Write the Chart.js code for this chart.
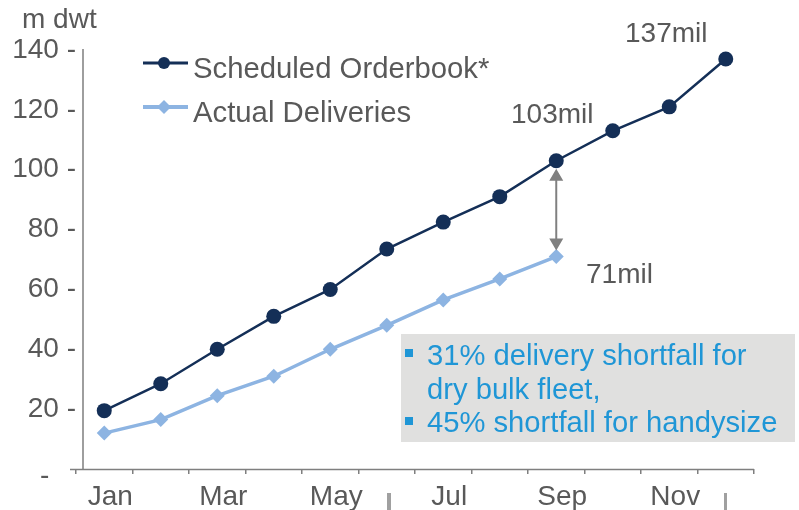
<!DOCTYPE html>
<html>
<head>
<meta charset="utf-8">
<script src="https://cdn.jsdelivr.net/npm/chart.js@4.4.0/dist/chart.umd.min.js"></script>
<style>
  html, body { margin: 0; padding: 0; background: #fff; }
  #wrap { width: 799px; height: 510px; }
</style>
</head>
<body>
<div id="wrap"><canvas id="chart" width="799" height="510"></canvas></div>
<script>
// values
const months = ['Jan', 'Feb', 'Mar', 'Apr', 'May', 'Jun', 'Jul', 'Aug', 'Sep', 'Oct', 'Nov', 'Dec'];
const scheduled = [19.5, 28.5, 40, 51, 60, 73.5, 82.5, 91, 103, 113, 121, 137];
const actual = [12, 16.5, 24.5, 31, 40, 48, 56.5, 63.5, 71, null, null, null];
const yTicks = [0, 20, 40, 60, 80, 100, 120, 140];
const boxLines = ['31% delivery shortfall for', 'dry bulk fleet,', '45% shortfall for handysize'];

const FONT = '"Liberation Sans", Arial, sans-serif';
const GREY_TXT = '#595959';
const NAVY = '#142f57';
const LIGHT = '#8db4e2';

function dot(ctx, x, y, r, color, diamond) {
  ctx.fillStyle = color;
  ctx.beginPath();
  if (diamond) {
    ctx.moveTo(x, y - r); ctx.lineTo(x + r, y); ctx.lineTo(x, y + r); ctx.lineTo(x - r, y);
    ctx.closePath();
  } else {
    ctx.arc(x, y, r, 0, Math.PI * 2);
  }
  ctx.fill();
}

const extras = {
  id: 'extras',
  afterDraw(chart) {
    const ctx = chart.ctx;
    const x = chart.scales.x, y = chart.scales.y;
    const area = chart.chartArea;
    ctx.save();

    // axis lines
    ctx.strokeStyle = '#7f7f7f';
    ctx.lineWidth = 1.5;
    ctx.beginPath();
    ctx.moveTo(83, y.getPixelForValue(140) - 1);
    ctx.lineTo(83, y.getPixelForValue(0));
    ctx.moveTo(70, y.getPixelForValue(0) + 0.5);
    ctx.lineTo(area.right, y.getPixelForValue(0) + 0.5);
    ctx.stroke();

    // stray separators below the axis
    ctx.fillStyle = '#a0a0a0';
    ctx.fillRect(387, 493, 4, 17);
    ctx.fillRect(724, 493, 3, 17);

    // zero label and unit
    ctx.fillStyle = GREY_TXT;
    ctx.font = '28px ' + FONT;
    ctx.textBaseline = 'alphabetic';
    ctx.textAlign = 'left';
    ctx.fillText('-', 40, 484);
    ctx.fillText('m dwt', 22, 28);

    // legend
    const legend = [
      { label: 'Scheduled Orderbook*', color: NAVY, y: 63, diamond: false, w: 3, r: 6 },
      { label: 'Actual Deliveries', color: LIGHT, y: 107, diamond: true, w: 4, r: 7 }
    ];
    legend.forEach(l => {
      ctx.strokeStyle = l.color;
      ctx.lineWidth = l.w;
      ctx.beginPath();
      ctx.moveTo(143, l.y);
      ctx.lineTo(188, l.y);
      ctx.stroke();
      dot(ctx, 164, l.y, l.r, l.color, l.diamond);
      ctx.fillStyle = GREY_TXT;
      ctx.font = '29.3px ' + FONT;
      ctx.fillText(l.label, 193, l.y + 15);
    });

    // value labels
    ctx.fillStyle = GREY_TXT;
    ctx.font = '28px ' + FONT;
    ctx.fillText('137mil', 625, 42);
    ctx.fillText('103mil', 511, 123);
    ctx.fillText('71mil', 586, 283);

    // gap arrow at Sep
    const ax = x.getPixelForValue(8);
    const top = y.getPixelForValue(scheduled[8]) + 8;
    const bot = y.getPixelForValue(actual[8]) - 6;
    ctx.strokeStyle = '#808080';
    ctx.fillStyle = '#808080';
    ctx.lineWidth = 2;
    ctx.beginPath();
    ctx.moveTo(ax, top + 10);
    ctx.lineTo(ax, bot - 10);
    ctx.stroke();
    ctx.beginPath();
    ctx.moveTo(ax, top); ctx.lineTo(ax + 7, top + 12); ctx.lineTo(ax - 7, top + 12); ctx.closePath();
    ctx.moveTo(ax, bot); ctx.lineTo(ax + 7, bot - 12); ctx.lineTo(ax - 7, bot - 12); ctx.closePath();
    ctx.fill();

    // note box
    ctx.fillStyle = '#e0e0df';
    ctx.fillRect(401, 334, 394, 108);
    ctx.fillStyle = '#1f96d6';
    ctx.fillRect(405, 349, 8, 8);
    ctx.fillRect(405, 417, 8, 8);
    ctx.font = '29.2px ' + FONT;
    ctx.fillText(boxLines[0], 427, 365);
    ctx.fillText(boxLines[1], 427, 399);
    ctx.fillText(boxLines[2], 427, 432);

    ctx.restore();
  }
};

new Chart(document.getElementById('chart'), {
  type: 'line',
  data: {
    labels: months,
    datasets: [
      {
        label: 'Actual Deliveries',
        data: actual,
        borderColor: LIGHT,
        backgroundColor: LIGHT,
        borderWidth: 3.5,
        pointStyle: 'rectRot',
        pointRadius: 7.5,
        pointHoverRadius: 7.5,
        pointBorderWidth: 0,
        tension: 0
      },
      {
        label: 'Scheduled Orderbook*',
        data: scheduled,
        borderColor: NAVY,
        backgroundColor: NAVY,
        borderWidth: 2.5,
        pointStyle: 'circle',
        pointRadius: 7.5,
        pointHoverRadius: 7.5,
        pointBorderWidth: 0,
        tension: 0
      }
    ]
  },
  options: {
    responsive: false,
    animation: false,
    events: [],
    layout: { padding: { left: 0, right: 45, top: 50, bottom: 0 } },
    plugins: { legend: { display: false }, tooltip: { enabled: false } },
    scales: {
      x: {
        offset: true,
        afterFit: s => { s.height = 41; },
        border: { display: false },
        grid: { offset: true, drawOnChartArea: false, color: '#7f7f7f', lineWidth: 1.5, tickLength: 5 },
        ticks: {
          autoSkip: false,
          maxRotation: 0,
          padding: 6,
          labelOffset: 6,
          color: GREY_TXT,
          font: { family: FONT, size: 28 },
          callback: (v, i) => (i % 2 === 0 ? months[i] : '')
        }
      },
      y: {
        min: 0,
        max: 140,
        afterFit: s => { s.width = 76; },
        afterBuildTicks: s => { s.ticks = yTicks.map(v => ({ value: v })); },
        border: { display: false },
        grid: { display: false, drawTicks: false },
        ticks: {
          padding: 0,
          color: GREY_TXT,
          font: { family: FONT, size: 28 },
          callback: v => (v === 0 ? '' : v + ' -')
        }
      }
    }
  },
  plugins: [extras]
});
</script>
</body>
</html>
